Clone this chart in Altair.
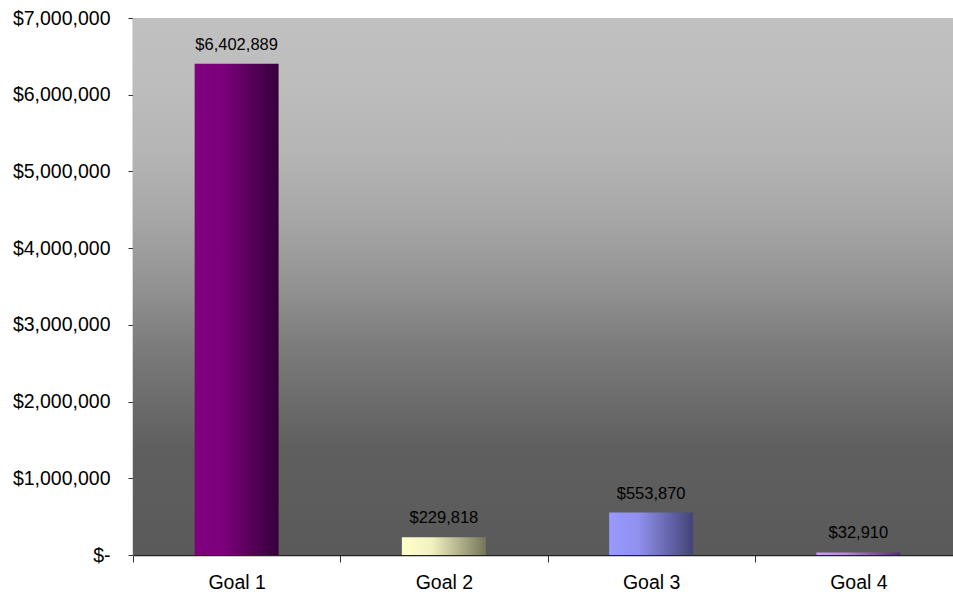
import altair as alt
import pandas as pd

# Funding by goal
goals = ["Goal 1", "Goal 2", "Goal 3", "Goal 4"]
amounts = [6402889, 229818, 553870, 32910]

# Horizontal gradient for each bar: light edge on the left, dark on the right
light_colors = ["#800080", "#ffffcc", "#9999ff", "#cc99ff"]
mid_colors = ["#7a007a", "#f2f2c0", "#9090ee", "#b388e6"]
dark_colors = ["#36003c", "#75755a", "#434377", "#55287a"]

y_ticks = [0, 1000000, 2000000, 3000000, 4000000, 5000000, 6000000, 7000000]

df = pd.DataFrame({"goal": goals, "amount": amounts})

W, H = 820, 537
FONT = "Liberation Sans"

x_enc = alt.X(
    "goal:N",
    sort=goals,
    scale=alt.Scale(range=[0, 829], paddingInner=0, paddingOuter=0),
    axis=alt.Axis(
        title=None,
        labelAngle=0,
        tickBand="extent",
        tickSize=7,
        tickColor="#333333",
        domainColor="#222222",
        domainWidth=1.5,
        labelFont=FONT,
        labelFontSize=19.5,
        labelColor="#000000",
        labelPadding=11,
        grid=False,
    ),
)
y_enc = alt.Y(
    "amount:Q",
    scale=alt.Scale(domain=[0, 7000000], nice=False),
    axis=alt.Axis(
        title=None,
        values=y_ticks,
        labelExpr="datum.value == 0 ? '$-' : '$' + format(datum.value, ',')",
        tickSize=5,
        tickColor="#333333",
        domainColor="#6e6e6e",
        domainWidth=1.5,
        labelFont=FONT,
        labelFontSize=19.5,
        labelColor="#000000",
        labelPadding=18,
        grid=False,
    ),
)

# Plot-area backdrop: grey vertical gradient, light at the top
backdrop = alt.Chart(pd.DataFrame({"k": [0]})).mark_rect(
    color=alt.Gradient(
        gradient="linear",
        x1=0, x2=0, y1=0, y2=1,
        stops=[
            alt.GradientStop(offset=0, color="#c0c0c0"),
            alt.GradientStop(offset=0.125, color="#bdbdbd"),
            alt.GradientStop(offset=0.25, color="#b5b5b5"),
            alt.GradientStop(offset=0.37, color="#a7a7a7"),
            alt.GradientStop(offset=0.5, color="#929292"),
            alt.GradientStop(offset=0.62, color="#7a7a7a"),
            alt.GradientStop(offset=0.8, color="#5f5f5f"),
            alt.GradientStop(offset=1, color="#5a5a5a"),
        ],
    )
).encode(x=alt.value(0), x2=alt.value(W), y=alt.value(0), y2=alt.value(H))

bars = []
for g, c0, c1, c2 in zip(goals, light_colors, mid_colors, dark_colors):
    bars.append(
        alt.Chart(df)
        .transform_filter(alt.datum.goal == g)
        .mark_bar(
            width=alt.RelativeBandSize(0.405),
            color=alt.Gradient(
                gradient="linear",
                x1=0, x2=1, y1=0, y2=0,
                stops=[
                    alt.GradientStop(offset=0, color=c0),
                    alt.GradientStop(offset=0.35, color=c1),
                    alt.GradientStop(offset=1, color=c2),
                ],
            ),
        )
        .encode(x=x_enc, y=y_enc)
    )

labels = alt.Chart(df).mark_text(
    baseline="bottom", dy=-11, font=FONT, fontSize=16.5, color="#000000"
).encode(x=x_enc, y=y_enc, text=alt.Text("amount:Q", format="$,"))

chart = (
    alt.layer(backdrop, *bars, labels)
    .properties(
        width=W,
        height=H,
        autosize=alt.AutoSizeParams(type="none"),
        padding={"left": 133, "top": 18, "right": 0, "bottom": 42},
        background="#ffffff",
    )
    .configure_view(strokeWidth=0)
)

chart.save("out.html", embed_options={"renderer": "svg", "actions": False})
